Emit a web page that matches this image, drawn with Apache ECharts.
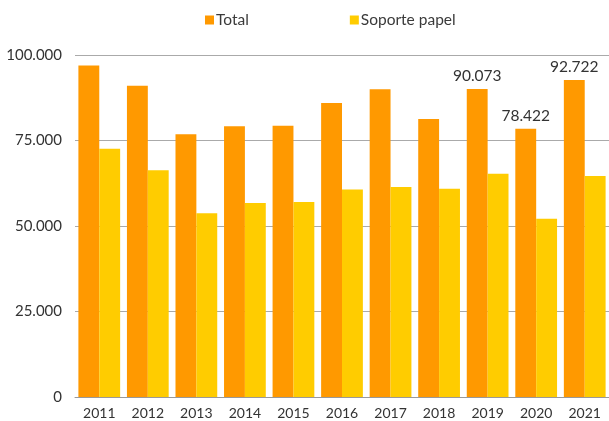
<!DOCTYPE html>
<html>
<head>
<meta charset="utf-8">
<script src="https://cdn.jsdelivr.net/npm/echarts@6/dist/echarts.min.js"></script>
<style>
  html, body { margin: 0; padding: 0; background: #fff; }
  #chart { width: 609px; height: 421px; }
</style>
</head>
<body>
<div id="chart"></div>
<script>
var years = ['2011', '2012', '2013', '2014', '2015', '2016', '2017', '2018', '2019', '2020', '2021'];
var total = [96900, 91000, 76800, 79200, 79300, 86000, 90000, 81300, 90073, 78422, 92722];
var papel = [72600, 66300, 53700, 56700, 57000, 60700, 61400, 60900, 65300, 52100, 64600];
// only the last three totals carry a label
var labelledYears = ['2019', '2020', '2021'];

function fmt(v) {
  return String(v).replace(/\B(?=(\d{3})+(?!\d))/g, '.');
}

var chart = echarts.init(document.getElementById('chart'));
var font = 'Lato, "Open Sans", sans-serif';

var option = {
  animation: false,
  textStyle: { fontFamily: font },
  legend: {
    top: 7,
    left: 200,
    itemWidth: 9,
    itemHeight: 9,
    itemGap: 101,
    icon: 'rect',
    textStyle: { color: '#3a3a3a', fontSize: 15.5, fontFamily: font, padding: [0, 0, 0, -3] },
    data: ['Total', 'Soporte papel']
  },
  grid: { left: 75, right: -4, top: 55, bottom: 24 },
  xAxis: {
    type: 'category',
    data: years,
    axisLine: { lineStyle: { color: '#999' } },
    axisTick: { show: false },
    axisLabel: { color: '#333', fontSize: 14, margin: 9, fontFamily: font }
  },
  yAxis: {
    type: 'value',
    min: 0,
    max: 100000,
    interval: 25000,
    axisLine: { show: false },
    axisTick: { show: false },
    splitLine: { lineStyle: { color: '#aaa', width: 1 } },
    axisLabel: {
      color: '#333',
      fontSize: 15,
      margin: 13,
      fontFamily: font,
      formatter: function (v) { return fmt(v); }
    }
  },
  series: [
    {
      name: 'Total',
      type: 'bar',
      barGap: '0%',
      barCategoryGap: '14%',
      itemStyle: { color: '#FF9900' },
      label: {
        show: true,
        position: 'top',
        distance: 5,
        color: '#333',
        fontSize: 15.5,
        fontFamily: font,
        formatter: function (p) {
          return labelledYears.indexOf(p.name) >= 0 ? fmt(p.value) : '';
        }
      },
      data: total
    },
    {
      name: 'Soporte papel',
      type: 'bar',
      itemStyle: { color: '#FFCC00' },
      data: papel
    }
  ]
};

chart.setOption(option);
</script>
</body>
</html>
